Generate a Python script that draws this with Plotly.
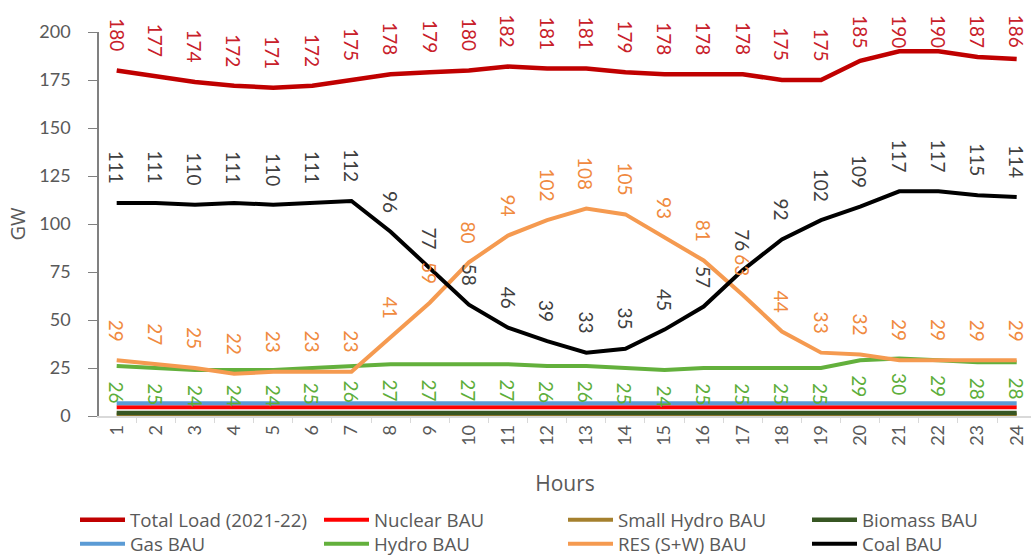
import plotly.graph_objects as go

# Hourly generation mix (GW) for a typical day, BAU scenario
hours = [str(h) for h in range(1, 25)]

total_load = [180, 177, 174, 172, 171, 172, 175, 178, 179, 180, 182, 181,
              181, 179, 178, 178, 178, 175, 175, 185, 190, 190, 187, 186]
nuclear = [4.6, 4.6, 4.6, 4.6, 4.6, 4.6, 4.6, 4.6, 4.6, 4.6, 4.6, 4.6,
           4.6, 4.6, 4.6, 4.6, 4.6, 4.6, 4.6, 4.6, 4.6, 4.6, 4.6, 4.6]
small_hydro = [0.8, 0.8, 0.8, 0.8, 0.8, 0.8, 0.8, 0.8, 0.8, 0.8, 0.8, 0.8,
               0.8, 0.8, 0.8, 0.8, 0.8, 0.8, 0.8, 0.8, 0.8, 0.8, 0.8, 0.8]
biomass = [1.6, 1.6, 1.6, 1.6, 1.6, 1.6, 1.6, 1.6, 1.6, 1.6, 1.6, 1.6,
           1.6, 1.6, 1.6, 1.6, 1.6, 1.6, 1.6, 1.6, 1.6, 1.6, 1.6, 1.6]
gas = [6.7, 6.7, 6.7, 6.7, 6.7, 6.7, 6.7, 6.7, 6.7, 6.7, 6.7, 6.7,
       6.7, 6.7, 6.7, 6.7, 6.7, 6.7, 6.7, 6.7, 6.7, 6.7, 6.7, 6.7]
hydro = [26, 25, 24, 24, 24, 25, 26, 27, 27, 27, 27, 26,
         26, 25, 24, 25, 25, 25, 25, 29, 30, 29, 28, 28]
res = [29, 27, 25, 22, 23, 23, 23, 41, 59, 80, 94, 102,
       108, 105, 93, 81, 63, 44, 33, 32, 29, 29, 29, 29]
coal = [111, 111, 110, 111, 110, 111, 112, 96, 77, 58, 46, 39,
        33, 35, 45, 57, 76, 92, 102, 109, 117, 117, 115, 114]

y_ticks = [0, 25, 50, 75, 100, 125, 150, 175, 200]

# Figure geometry
W, H = 1031, 556
ML, MR, MT, MB = 99, 0, 32, 140
PLOT_W = W - ML - MR
PLOT_H = H - MT - MB
Y_MAX = 200

NUM_FONT = "Lato"
TEXT_FONT = "Open Sans"
AXIS_TEXT = "#595959"

# name, values, colour, width, legend row
series = [
    ("Total Load (2021-22)", total_load, "#C00000", 4.5, "legend"),
    ("Nuclear BAU", nuclear, "#FF0000", 4, "legend"),
    ("Small Hydro BAU", small_hydro, "#A5802E", 4, "legend"),
    ("Biomass BAU", biomass, "#375623", 4.5, "legend"),
    ("Gas BAU", gas, "#5B9BD5", 4, "legend2"),
    ("Hydro BAU", hydro, "#63B03C", 4, "legend2"),
    ("RES (S+W) BAU", res, "#F59A50", 4, "legend2"),
    ("Coal BAU", coal, "#000000", 4, "legend2"),
]

fig = go.Figure()
for name, vals, color, width, leg in series:
    fig.add_trace(go.Scatter(
        x=hours, y=vals, name=name, mode="lines",
        line=dict(color=color, width=width),
        cliponaxis=False, legend=leg,
    ))


def value_px(v):
    """Vertical pixel position of a value inside the figure."""
    return MT + (Y_MAX - v) / Y_MAX * PLOT_H


def add_labels(vals, color, above, clamp_top=False):
    # category axis: annotations are placed by category index
    for i, v in enumerate(vals):
        if above:
            shift = 17
            if clamp_top:
                shift = min(shift, value_px(v) - 50)
            fig.add_annotation(x=i, y=v, text=str(v), textangle=90,
                               showarrow=False, yanchor="bottom", yshift=shift,
                               font=dict(family=NUM_FONT, size=19, color=color))
        else:
            fig.add_annotation(x=i, y=v, text=str(v), textangle=90,
                               showarrow=False, yanchor="top", yshift=-13,
                               font=dict(family=NUM_FONT, size=19, color=color))


add_labels(total_load, "#C8202A", True, clamp_top=True)
add_labels(coal, "#404040", True)
add_labels(res, "#F08A40", True)
add_labels(hydro, "#5DAE3A", False)


def legend_row(top_px):
    return dict(
        orientation="h", xref="paper", yref="paper",
        x=(75 - ML) / PLOT_W, xanchor="left",
        y=-(top_px - (MT + PLOT_H)) / PLOT_H, yanchor="top",
        entrywidth=184, itemwidth=45,
        font=dict(family=TEXT_FONT, size=18.7, color=AXIS_TEXT),
        bgcolor="rgba(0,0,0,0)",
    )


fig.update_layout(
    width=W, height=H,
    margin=dict(l=ML, r=MR, t=MT, b=MB, autoexpand=False),
    paper_bgcolor="white", plot_bgcolor="white",
    font=dict(family=NUM_FONT, size=18, color=AXIS_TEXT),
    showlegend=True,
    legend=legend_row(501),
    legend2=legend_row(525),
    xaxis=dict(
        type="category", range=[-0.452, 23.366],
        tickson="boundaries", ticks="outside", ticklen=5, tickcolor="#D9D9D9",
        showline=True, linecolor="#D9D9D9", linewidth=1.5,
        showgrid=False, zeroline=False,
        tickangle=-90, tickfont=dict(family=NUM_FONT, size=18, color=AXIS_TEXT),
        title=dict(text="Hours", font=dict(family=TEXT_FONT, size=21, color=AXIS_TEXT),
                   standoff=31),
    ),
    yaxis=dict(
        range=[0, Y_MAX], tickvals=y_ticks,
        ticks="outside", ticklen=9, tickcolor="#808080",
        showline=True, linecolor="#808080", linewidth=1.5,
        showgrid=False, zeroline=False, ticklabelstandoff=14,
        tickfont=dict(family=NUM_FONT, size=18, color=AXIS_TEXT),
        title=dict(text="GW", font=dict(family=TEXT_FONT, size=20, color=AXIS_TEXT),
                   standoff=8),
    ),
)

fig.write_html("out.html")
